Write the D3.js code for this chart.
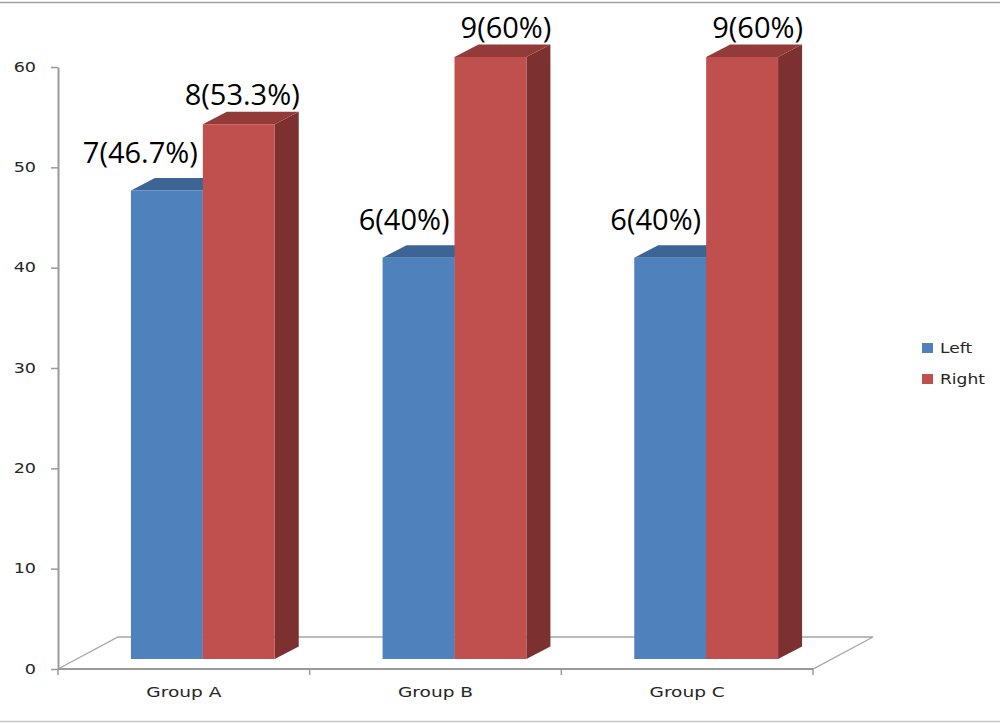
<!DOCTYPE html>
<html>
<head>
<meta charset="utf-8">
<script src="https://cdn.jsdelivr.net/npm/d3@7"></script>
<style>
  body { margin: 0; background: #fff; }
  svg { display: block; }
</style>
</head>
<body>
<svg width="1000" height="723"></svg>
<script>
// chart values
var groups = ["Group A", "Group B", "Group C"];
var series = ["Left", "Right"];
var counts = { Left: [7, 6, 6], Right: [8, 9, 9] };
var percents = { Left: [46.7, 40, 40], Right: [53.3, 60, 60] };
var yTicks = [0, 10, 20, 30, 40, 50, 60];

var colors = {
  Left: { front: "#4f81bd", top: "#3c6595", side: "#355b88" },
  Right: { front: "#c0504d", top: "#923b39", side: "#7c3130" }
};

var svg = d3.select("svg");
var width = +svg.attr("width");

// front plane of the floor
var x0 = 58, x1 = 813, yBase = 669;
var yScale = d3.scaleLinear([0, 60], [yBase, 67]);
var xScale = d3.scaleBand(groups, [x0, x1]);
var inner = d3.scaleBand(series, [0, xScale.bandwidth()]).paddingOuter(0.75);

// 3d offsets: floor depth, where bars sit, bar depth
var floorDepth = { dx: 60, dy: -32 };
var barShift = { dx: 19, dy: -10 };
var barDepth = { dx: 24, dy: -12.5 };

// borders
svg.append("line").attr("x1", 0).attr("x2", width).attr("y1", 2.5).attr("y2", 2.5)
  .attr("stroke", "#a0a0a0").attr("stroke-width", 1.5);
svg.append("line").attr("x1", 0).attr("x2", width).attr("y1", 721.5).attr("y2", 721.5)
  .attr("stroke", "#c8c8c8").attr("stroke-width", 1.5);

// floor
var floorPts = [
  [x0, yBase],
  [x0 + floorDepth.dx, yBase + floorDepth.dy],
  [x1 + floorDepth.dx, yBase + floorDepth.dy],
  [x1, yBase]
];
svg.append("polygon")
  .attr("points", floorPts.map(function (p) { return p.join(","); }).join(" "))
  .attr("fill", "#fff")
  .attr("stroke", "#a6a6a6")
  .attr("stroke-width", 1.3);

// y axis
var yAxis = svg.append("g")
  .attr("transform", "translate(" + x0 + ",0)")
  .call(d3.axisLeft(yScale).tickValues(yTicks).tickSize(7).tickSizeOuter(0).tickPadding(0));
yAxis.select(".domain").attr("stroke", "#9a9a9a").attr("stroke-width", 2);
yAxis.selectAll(".tick line").attr("stroke", "#9a9a9a").attr("stroke-width", 1.5);
yAxis.selectAll(".tick text")
  .attr("x", -22 / 1.3)
  .attr("transform", "scale(1.3,1)")
  .attr("fill", "#262626")
  .style("font-family", "DejaVu Sans")
  .style("font-size", "13.5px");

// x axis line with ticks at category edges
svg.append("line").attr("x1", x0).attr("x2", x1).attr("y1", yBase).attr("y2", yBase)
  .attr("stroke", "#9a9a9a").attr("stroke-width", 2);
var edges = groups.map(function (g) { return xScale(g); }).concat([x1]);
svg.selectAll(".xtick").data(edges).enter().append("line")
  .attr("class", "xtick")
  .attr("x1", function (d) { return d; }).attr("x2", function (d) { return d; })
  .attr("y1", yBase).attr("y2", yBase + 6)
  .attr("stroke", "#9a9a9a").attr("stroke-width", 1.5);
svg.selectAll(".xlabel").data(groups).enter().append("text")
  .attr("class", "xlabel")
  .attr("transform", function (d) {
    return "translate(" + (xScale(d) + xScale.bandwidth() / 2) + ",697) scale(1.28,1)";
  })
  .attr("text-anchor", "middle")
  .attr("fill", "#262626")
  .style("font-family", "DejaVu Sans")
  .style("font-size", "14.5px")
  .text(function (d) { return d; });

// bars
var bars = [];
groups.forEach(function (g, i) {
  series.forEach(function (s) {
    var xl = xScale(g) + inner(s) + barShift.dx;
    var xr = xl + inner.bandwidth();
    var yt = yScale(percents[s][i]) + barShift.dy;
    var yb = yScale(0) + barShift.dy;
    bars.push({ g: g, s: s, i: i, xl: xl, xr: xr, yt: yt, yb: yb });
  });
});

function pts(arr) { return arr.map(function (p) { return p.join(","); }).join(" "); }

var barG = svg.selectAll(".bar").data(bars).enter().append("g").attr("class", "bar");
barG.append("polygon")
  .attr("points", function (d) {
    return pts([[d.xr, d.yb], [d.xr + barDepth.dx, d.yb + barDepth.dy],
      [d.xr + barDepth.dx, d.yt + barDepth.dy], [d.xr, d.yt]]);
  })
  .attr("fill", function (d) { return colors[d.s].side; });
barG.append("polygon")
  .attr("points", function (d) {
    return pts([[d.xl, d.yt], [d.xl + barDepth.dx, d.yt + barDepth.dy],
      [d.xr + barDepth.dx, d.yt + barDepth.dy], [d.xr, d.yt]]);
  })
  .attr("fill", function (d) { return colors[d.s].top; });
barG.append("rect")
  .attr("x", function (d) { return d.xl; })
  .attr("y", function (d) { return d.yt; })
  .attr("width", function (d) { return d.xr - d.xl; })
  .attr("height", function (d) { return d.yb - d.yt; })
  .attr("fill", function (d) { return colors[d.s].front; });

// value labels, above the back edge of each bar's top
svg.selectAll(".vlabel").data(bars).enter().append("text")
  .attr("class", "vlabel")
  .attr("x", function (d) { return d.s === "Left" ? d.xr - 5 : d.xr + barDepth.dx + 1; })
  .attr("y", function (d) { return d.yt + barDepth.dy - (d.s === "Left" ? 15 : 7); })
  .attr("text-anchor", "end")
  .attr("fill", "#000")
  .style("font-family", "Open Sans")
  .style("font-size", "29px")
  .text(function (d) { return counts[d.s][d.i] + "(" + percents[d.s][d.i] + "%)"; });

// legend
var legend = svg.selectAll(".legend").data(series).enter().append("g")
  .attr("class", "legend")
  .attr("transform", function (d, i) { return "translate(922," + (343 + i * 31) + ")"; });
legend.append("rect").attr("width", 11).attr("height", 10)
  .attr("fill", function (d) { return colors[d].front; });
legend.append("text")
  .attr("transform", "translate(18,10) scale(1.22,1)")
  .attr("fill", "#262626")
  .style("font-family", "DejaVu Sans")
  .style("font-size", "14px")
  .text(function (d) { return d; });
</script>
</body>
</html>
